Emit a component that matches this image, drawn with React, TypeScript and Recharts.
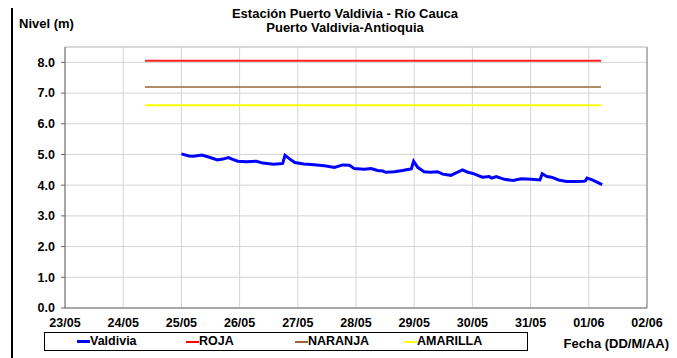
import { LineChart, Line, XAxis, YAxis, CartesianGrid, ReferenceLine } from 'recharts'

// eje X: días desde el 23/05
const fechas = ['23/05', '24/05', '25/05', '26/05', '27/05', '28/05', '29/05', '30/05', '31/05', '01/06', '02/06']
const diasTicks = fechas.map((_, i) => i)
const nivelTicks = [0, 1, 2, 3, 4, 5, 6, 7, 8]

const diasValdivia = [
  2.0, 2.13, 2.21, 2.35, 2.48, 2.62, 2.71, 2.81, 2.88, 2.97, 3.11, 3.29, 3.4, 3.58, 3.69, 3.74, 3.78, 3.87, 3.95,
  4.1, 4.23, 4.46, 4.63, 4.77, 4.89, 4.97, 5.14, 5.26, 5.37, 5.46, 5.51, 5.66, 5.8, 5.91, 5.95, 5.99, 6.06, 6.17,
  6.29, 6.4, 6.49, 6.63, 6.71, 6.83, 6.91, 7.03, 7.17, 7.29, 7.33, 7.41, 7.55, 7.7, 7.84, 8.01, 8.16, 8.2, 8.28,
  8.36, 8.48, 8.62, 8.77, 8.91, 8.94, 8.97, 9.06, 9.14, 9.23,
]
const nivelValdivia = [
  5.02, 4.95, 4.94, 4.98, 4.91, 4.82, 4.85, 4.9, 4.84, 4.78, 4.76, 4.78, 4.72, 4.68, 4.7, 4.71, 4.97, 4.84, 4.74,
  4.69, 4.67, 4.63, 4.58, 4.66, 4.65, 4.54, 4.52, 4.54, 4.48, 4.46, 4.42, 4.44, 4.48, 4.52, 4.53, 4.78, 4.58, 4.44,
  4.42, 4.44, 4.36, 4.32, 4.39, 4.5, 4.43, 4.37, 4.26, 4.28, 4.23, 4.28, 4.19, 4.15, 4.21, 4.19, 4.17, 4.37, 4.28,
  4.26, 4.17, 4.12, 4.12, 4.13, 4.14, 4.23, 4.17, 4.1, 4.02,
]

// niveles de alerta
const diasAlerta = [1.375, 9.21]
const nivelRoja = 8.05
const nivelNaranja = 7.2
const nivelAmarilla = 6.6

const valdivia = diasValdivia.map((dia, i) => ({ dia, nivel: nivelValdivia[i] }))
const alertas = diasAlerta.map(dia => ({ dia, roja: nivelRoja, naranja: nivelNaranja, amarilla: nivelAmarilla }))

const leyenda = [
  { name: 'Valdivia', color: '#0000ff', h: 3 },
  { name: 'ROJA', color: '#ff0000', h: 2 },
  { name: 'NARANJA', color: '#996633', h: 2 },
  { name: 'AMARILLA', color: '#ffff00', h: 2 },
]

const font = '"Liberation Sans", Arial, sans-serif'
const tick = { fontSize: 12.5, fontWeight: 'bold', fill: '#000', fontFamily: font }

export default function App() {
  return (
    <div style={{ position: 'relative', width: 677, height: 358, margin: '-8px 0 0 -8px', overflow: 'hidden', background: '#fff', fontFamily: font }}>
      <div style={{ position: 'absolute', left: 11, top: 6, width: 658, height: 400, border: '2px solid #000' }} />
      <div style={{ position: 'absolute', left: 0, width: 690, top: 7, textAlign: 'center', fontSize: 13, fontWeight: 'bold', lineHeight: '14px' }}>
        Estación Puerto Valdivia - Río Cauca
        <br />
        Puerto Valdivia-Antioquia
      </div>
      <div style={{ position: 'absolute', left: 19, top: 16, fontSize: 13, fontWeight: 'bold' }}>Nivel (m)</div>
      <div style={{ position: 'absolute', right: 8, top: 336, fontSize: 13, fontWeight: 'bold' }}>Fecha (DD/M/AA)</div>

      <LineChart width={677} height={358} data={valdivia} margin={{ top: 47, right: 30, bottom: 20, left: 15 }} style={{ position: 'absolute', left: 0, top: 0 }}>
        <CartesianGrid stroke="#d4d4d4" strokeWidth={1} />
        <XAxis
          dataKey="dia"
          type="number"
          domain={[0, 10]}
          ticks={diasTicks}
          tickFormatter={v => fechas[v]}
          tick={tick}
          tickLine={false}
          tickSize={4}
          tickMargin={6}
          height={30}
          stroke="#666"
          interval={0}
        />
        <YAxis
          type="number"
          domain={[0, 8.5]}
          ticks={nivelTicks}
          tickFormatter={v => v.toFixed(1)}
          tick={tick}
          tickSize={4}
          tickMargin={6}
          width={50}
          stroke="#666"
        />
        <ReferenceLine y={8.5} stroke="#c8c8c8" />
        <ReferenceLine x={10} stroke="#a0a0a0" strokeWidth={1.5} />
        <Line data={alertas} dataKey="roja" stroke="#ff2020" strokeWidth={2} dot={false} isAnimationActive={false} />
        <Line data={alertas} dataKey="naranja" stroke="#996633" strokeWidth={1.5} dot={false} isAnimationActive={false} />
        <Line data={alertas} dataKey="amarilla" stroke="#ffff00" strokeWidth={2} dot={false} isAnimationActive={false} />
        <Line dataKey="nivel" stroke="#0000ff" strokeWidth={3} dot={false} isAnimationActive={false} />
      </LineChart>

      <div style={{ position: 'absolute', left: 44, top: 332, width: 482, height: 17, border: '1px solid #000', background: '#fff' }}>
        {leyenda.map((s, i) => (
          <div key={s.name} style={{ position: 'absolute', left: 32 + i * 109, top: 1, display: 'flex', alignItems: 'center', fontSize: 12.5, fontWeight: 'bold', lineHeight: '15px' }}>
            <span style={{ display: 'inline-block', width: 13, height: s.h, background: s.color }} />
            <span>{s.name}</span>
          </div>
        ))}
      </div>
    </div>
  )
}
